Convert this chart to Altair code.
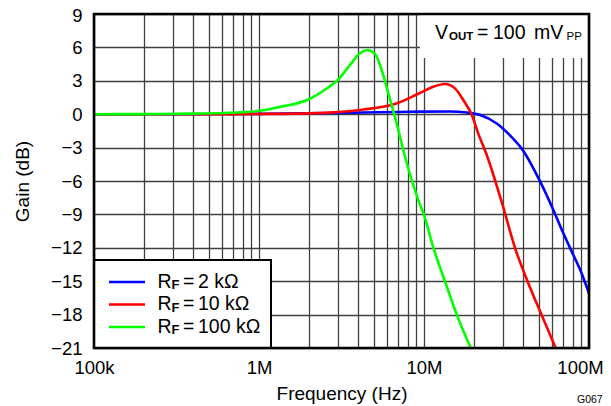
import altair as alt
import pandas as pd

# ---------------- data ----------------
series_labels = ["2 kΩ", "10 kΩ", "100 kΩ"]
series_colors = ["#0000FF", "#FF0000", "#00FF00"]

freq_rf2k = [1e5, 3e5, 1e6, 2e6, 4.3e6, 7.2e6, 9.5e6, 14.4e6, 18.1e6, 21.9e6, 27.6e6,
             33.2e6, 40e6, 50e6, 60.8e6, 69.9e6, 80.4e6, 90.3e6, 100e6]
gain_rf2k = [0.0, 0.0, 0.03, 0.08, 0.15, 0.2, 0.23, 0.24, 0.15, -0.08, -0.84,
             -1.91, -3.3, -5.9, -8.6, -10.7, -12.65, -14.3, -16.1]

freq_rf10k = [1e5, 5e5, 1e6, 2e6, 4.3e6, 6.8e6, 9.5e6, 11.4e6, 13.4e6, 15.4e6, 17.3e6,
              19.5e6, 21.3e6, 24e6, 30e6, 35.6e6, 42.4e6, 51.5e6, 62.8e6]
gain_rf10k = [0.0, 0.0, 0.02, 0.07, 0.42, 0.96, 1.93, 2.47, 2.71, 2.32, 1.27,
              -0.08, -1.72, -3.67, -8.2, -12.0, -15.0, -18.0, -21.0]

freq_rf100k = [1e5, 2e5, 4e5, 6.67e5, 1.01e6, 1.34e6, 1.99e6, 2.57e6, 3.03e6, 3.56e6,
               4.09e6, 4.53e6, 5.05e6, 5.54e6, 6.16e6, 6.83e6, 7.67e6, 9.23e6, 10e6,
               11.4e6, 13.4e6, 15.8e6, 19.2e6]
gain_rf100k = [0.0, 0.01, 0.05, 0.13, 0.31, 0.66, 1.32, 2.31, 3.13, 4.42,
               5.47, 5.77, 5.41, 3.97, 1.57, -0.84, -3.8, -7.7, -9.05,
               -12.0, -15.0, -18.0, -21.0]

x_label_values = [100000, 1000000, 10000000, 100000000]
x_label_texts = ["100k", "1M", "10M", "100M"]
y_tick_values = [-21, -18, -15, -12, -9, -6, -3, 0, 3, 6, 9]

annotation_parts = ["V", "OUT", "=", "100", "mV", "PP"]
figure_id = "G067"

# ---------------- build table ----------------
all_freqs = [freq_rf2k, freq_rf10k, freq_rf100k]
all_gains = [gain_rf2k, gain_rf10k, gain_rf100k]
rows = []
for lab, fs, gs in zip(series_labels, all_freqs, all_gains):
    for f, g in zip(fs, gs):
        rows.append({"series": lab, "freq": f, "gain": g})
df = pd.DataFrame(rows)

# grid positions: 1..9 x each decade
x_grid = [k * 10 ** e for e in (5, 6, 7) for k in range(1, 10)] + [10 ** 8]
label_expr = "".join(
    f"datum.value == {v} ? '{t}' : " for v, t in zip(x_label_values, x_label_texts)
) + "''"

W, H = 495, 334
FONT = "Liberation Sans"
GRID = "#404040"

x_scale = alt.Scale(type="log", domain=[1e5, 1e8], nice=False)
y_scale = alt.Scale(domain=[-21, 9], nice=False, zero=False)

x_axis = alt.Axis(values=x_grid, labelExpr=label_expr, title="Frequency (Hz)",
                  grid=True, ticks=False, domain=False, labelOverlap=False,
                  labelFlush=False, labelPadding=10, titlePadding=7.5,
                  labelOffset={"condition": {"test": f"datum.value == {x_label_values[-1]}",
                                             "value": -9}, "value": 0},
                  gridColor=GRID, gridWidth=1.3)
y_axis = alt.Axis(values=y_tick_values, title="Gain (dB)", grid=True, ticks=False,
                  domain=False, labelPadding=12, titlePadding=18,
                  labelOffset={"condition": {"test": f"datum.value == {y_tick_values[-1]}",
                                             "value": 1.5}, "value": 0},
                  labelExpr="datum.value < 0 ? '\u2212' + abs(datum.value) : '' + datum.value",
                  gridColor=GRID, gridWidth=1.3)

dummy = pd.DataFrame({"d": [0]})


def label(text, x, y, size, weight="normal"):
    return alt.Chart(dummy).mark_text(
        text=text, align="left", baseline="alphabetic", fontSize=size,
        fontWeight=weight, font=FONT, color="black"
    ).encode(x=alt.value(x), y=alt.value(y))


# White box behind the annotation (hides the grid)
annot_box = alt.Chart(dummy).mark_rect(fill="white", stroke=None).encode(
    x=alt.value(326), x2=alt.value(W), y=alt.value(0), y2=alt.value(44))

# Curves: blue, red, green (green on top)
line_layers = []
for lab, col in zip(series_labels, series_colors):
    line_layers.append(
        alt.Chart(df).transform_filter(alt.datum.series == lab)
        .mark_line(strokeWidth=2.6, interpolate="monotone", clip=True, color=col)
        .encode(x=alt.X("freq:Q", scale=x_scale, axis=x_axis),
                y=alt.Y("gain:Q", scale=y_scale, axis=y_axis))
    )

# Legend box
LEG_X2, LEG_Y = 177, 246
legend_box = alt.Chart(dummy).mark_rect(fill="white", stroke="black", strokeWidth=2).encode(
    x=alt.value(0), x2=alt.value(LEG_X2), y=alt.value(LEG_Y), y2=alt.value(H))

legend_layers = []
for i, (lab, col) in enumerate(zip(series_labels, series_colors)):
    ly = 268 + 22.5 * i
    legend_layers.append(alt.Chart(dummy).mark_rule(color=col, strokeWidth=2.6).encode(
        x=alt.value(15), x2=alt.value(51), y=alt.value(ly)))
    legend_layers.append(label("R", 63.5, ly + 5.5, 19.5))
    legend_layers.append(label("F", 77.5, ly + 7, 13, "bold"))
    legend_layers.append(label("=", 89, ly + 5.5, 19.5))
    legend_layers.append(label(lab, 104, ly + 5.5, 19.5))

# Annotation text  V_OUT = 100 mV_PP
annot_layers = [
    label(annotation_parts[0], 341, 24.7, 19.5),
    label(annotation_parts[1], 355, 25.7, 11.5, "bold"),
    label(annotation_parts[2], 383, 24.7, 19.5),
    label(annotation_parts[3], 399, 24.7, 19.5),
    label(annotation_parts[4], 440, 24.7, 19.5),
    label(annotation_parts[5], 472.5, 25.7, 11.5),
]

# Plot frame on top
frame = alt.Chart(dummy).mark_rect(filled=False, stroke="black", strokeWidth=2.6).encode(
    x=alt.value(0), x2=alt.value(W), y=alt.value(0), y2=alt.value(H))

fig_id = label(figure_id, 483, 389, 10.5)

chart = alt.layer(
    annot_box, *line_layers, legend_box, *legend_layers, *annot_layers, frame, fig_id
).properties(
    width=W, height=H,
    autosize=alt.AutoSizeParams(type="none"),
    padding={"left": 86, "top": 6, "right": 14, "bottom": 58},
).configure_view(stroke=None).configure_axis(
    labelFont=FONT, titleFont=FONT, labelFontSize=18.5, titleFontSize=19,
    titleFontWeight="normal", labelColor="black", titleColor="black",
    gridOpacity=1,
)

chart.save("out.html", embed_options={"renderer": "svg", "actions": False})
